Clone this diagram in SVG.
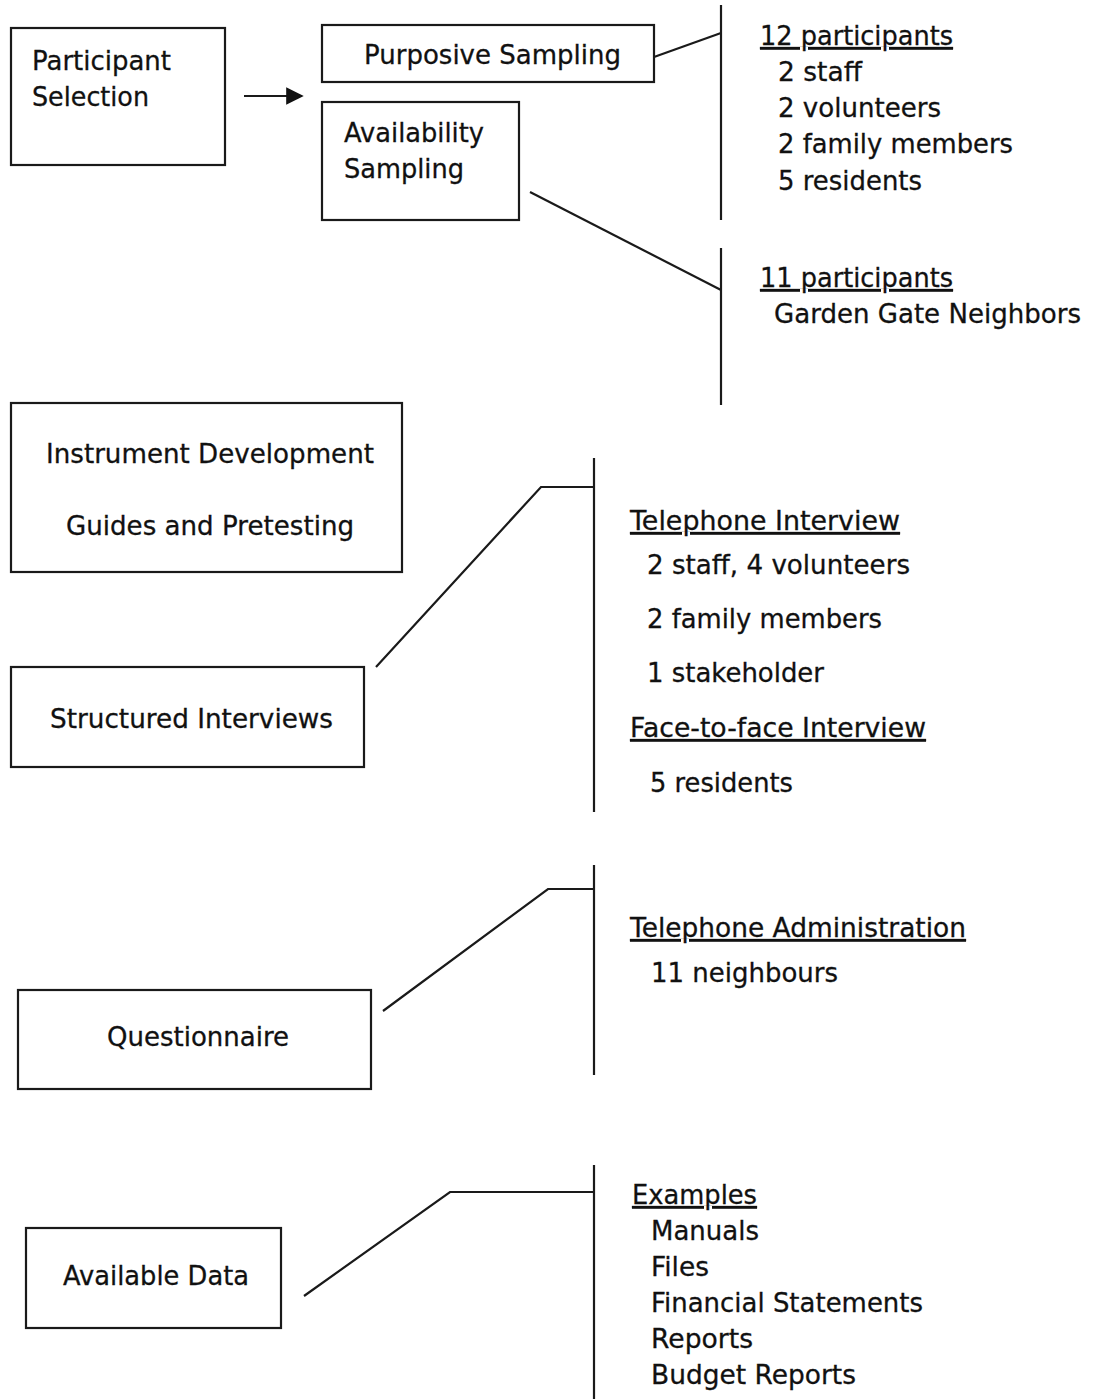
<svg xmlns="http://www.w3.org/2000/svg" width="1094" height="1399" viewBox="0 0 1094 1399">
  <style>
    .box { fill: #ffffff; stroke: #1a1a1a; stroke-width: 2.2; }
    .ln { fill: none; stroke: #1a1a1a; stroke-width: 2.2; }
    text { font-family: "DejaVu Sans", Verdana, sans-serif; font-size: 27px; fill: #111111; stroke: #111111; stroke-width: 0.3; }
    .ul { text-decoration: underline; }
  </style>
  <defs>
    <marker id="arrowhead" viewBox="0 0 10 10" refX="9" refY="5" markerWidth="8" markerHeight="8" orient="auto" markerUnits="strokeWidth">
      <path d="M0,0 L10,5 L0,10 Z" fill="#111111"/>
    </marker>
  </defs>
  <rect width="1094" height="1399" fill="#ffffff"/>

  <!-- connectors and bracket lines -->
  <g id="connectors">
    <line class="ln" x1="244" y1="96" x2="302" y2="96" marker-end="url(#arrowhead)"/>
    <line class="ln" x1="654" y1="57" x2="721" y2="33"/>
    <line class="ln" x1="721" y1="5" x2="721" y2="220"/>
    <line class="ln" x1="530" y1="192" x2="721" y2="290"/>
    <line class="ln" x1="721" y1="248" x2="721" y2="405"/>
    <polyline class="ln" points="376,667 541,487 594,487"/>
    <line class="ln" x1="594" y1="458" x2="594" y2="812"/>
    <polyline class="ln" points="383,1011 548,889 594,889"/>
    <line class="ln" x1="594" y1="865" x2="594" y2="1075"/>
    <polyline class="ln" points="304,1296 450,1192 594,1192"/>
    <line class="ln" x1="594" y1="1165" x2="594" y2="1399"/>
  </g>

  <g id="participant-selection">
    <rect class="box" x="11" y="28" width="214" height="137"/>
    <text x="32" y="70" textLength="139" lengthAdjust="spacingAndGlyphs">Participant</text>
    <text x="32" y="106" textLength="117" lengthAdjust="spacingAndGlyphs">Selection</text>
  </g>

  <g id="purposive-sampling">
    <rect class="box" x="322" y="25" width="332" height="57"/>
    <text x="364" y="64" textLength="257" lengthAdjust="spacingAndGlyphs">Purposive Sampling</text>
  </g>

  <g id="availability-sampling">
    <rect class="box" x="322" y="102" width="197" height="118"/>
    <text x="344" y="142" textLength="140" lengthAdjust="spacingAndGlyphs">Availability</text>
    <text x="344" y="178" textLength="120" lengthAdjust="spacingAndGlyphs">Sampling</text>
  </g>

  <g id="purposive-participants">
    <text class="ul" x="760" y="45" textLength="193" lengthAdjust="spacingAndGlyphs">12 participants</text>
    <text x="778" y="81" textLength="84" lengthAdjust="spacingAndGlyphs">2 staff</text>
    <text x="778" y="117" textLength="163" lengthAdjust="spacingAndGlyphs">2 volunteers</text>
    <text x="778" y="153" textLength="235" lengthAdjust="spacingAndGlyphs">2 family members</text>
    <text x="778" y="190" textLength="144" lengthAdjust="spacingAndGlyphs">5 residents</text>
  </g>

  <g id="availability-participants">
    <text class="ul" x="760" y="287" textLength="193" lengthAdjust="spacingAndGlyphs">11 participants</text>
    <text x="774" y="323" textLength="307" lengthAdjust="spacingAndGlyphs">Garden Gate Neighbors</text>
  </g>

  <g id="instrument-development">
    <rect class="box" x="11" y="403" width="391" height="169"/>
    <text x="46" y="463" textLength="328" lengthAdjust="spacingAndGlyphs">Instrument Development</text>
    <text x="66" y="535" textLength="288" lengthAdjust="spacingAndGlyphs">Guides and Pretesting</text>
  </g>

  <g id="structured-interviews">
    <rect class="box" x="11" y="667" width="353" height="100"/>
    <text x="50" y="728" textLength="283" lengthAdjust="spacingAndGlyphs">Structured Interviews</text>
  </g>

  <g id="interview-details">
    <text class="ul" x="630" y="530" textLength="270" lengthAdjust="spacingAndGlyphs">Telephone Interview</text>
    <text x="647" y="574" textLength="263" lengthAdjust="spacingAndGlyphs">2 staff, 4 volunteers</text>
    <text x="647" y="628" textLength="235" lengthAdjust="spacingAndGlyphs">2 family members</text>
    <text x="647" y="682" textLength="177" lengthAdjust="spacingAndGlyphs">1 stakeholder</text>
    <text class="ul" x="630" y="737" textLength="296" lengthAdjust="spacingAndGlyphs">Face-to-face Interview</text>
    <text x="650" y="792" textLength="143" lengthAdjust="spacingAndGlyphs">5 residents</text>
  </g>

  <g id="questionnaire">
    <rect class="box" x="18" y="990" width="353" height="99"/>
    <text x="107" y="1046" textLength="182" lengthAdjust="spacingAndGlyphs">Questionnaire</text>
  </g>

  <g id="questionnaire-details">
    <text class="ul" x="630" y="937" textLength="336" lengthAdjust="spacingAndGlyphs">Telephone Administration</text>
    <text x="651" y="982" textLength="187" lengthAdjust="spacingAndGlyphs">11 neighbours</text>
  </g>

  <g id="available-data">
    <rect class="box" x="26" y="1228" width="255" height="100"/>
    <text x="63" y="1285" textLength="186" lengthAdjust="spacingAndGlyphs">Available Data</text>
  </g>

  <g id="data-examples">
    <text class="ul" x="632" y="1204" textLength="125" lengthAdjust="spacingAndGlyphs">Examples</text>
    <text x="651" y="1240" textLength="108" lengthAdjust="spacingAndGlyphs">Manuals</text>
    <text x="651" y="1276" textLength="58" lengthAdjust="spacingAndGlyphs">Files</text>
    <text x="651" y="1312" textLength="272" lengthAdjust="spacingAndGlyphs">Financial Statements</text>
    <text x="651" y="1348" textLength="102" lengthAdjust="spacingAndGlyphs">Reports</text>
    <text x="651" y="1384" textLength="205" lengthAdjust="spacingAndGlyphs">Budget Reports</text>
  </g>
</svg>
